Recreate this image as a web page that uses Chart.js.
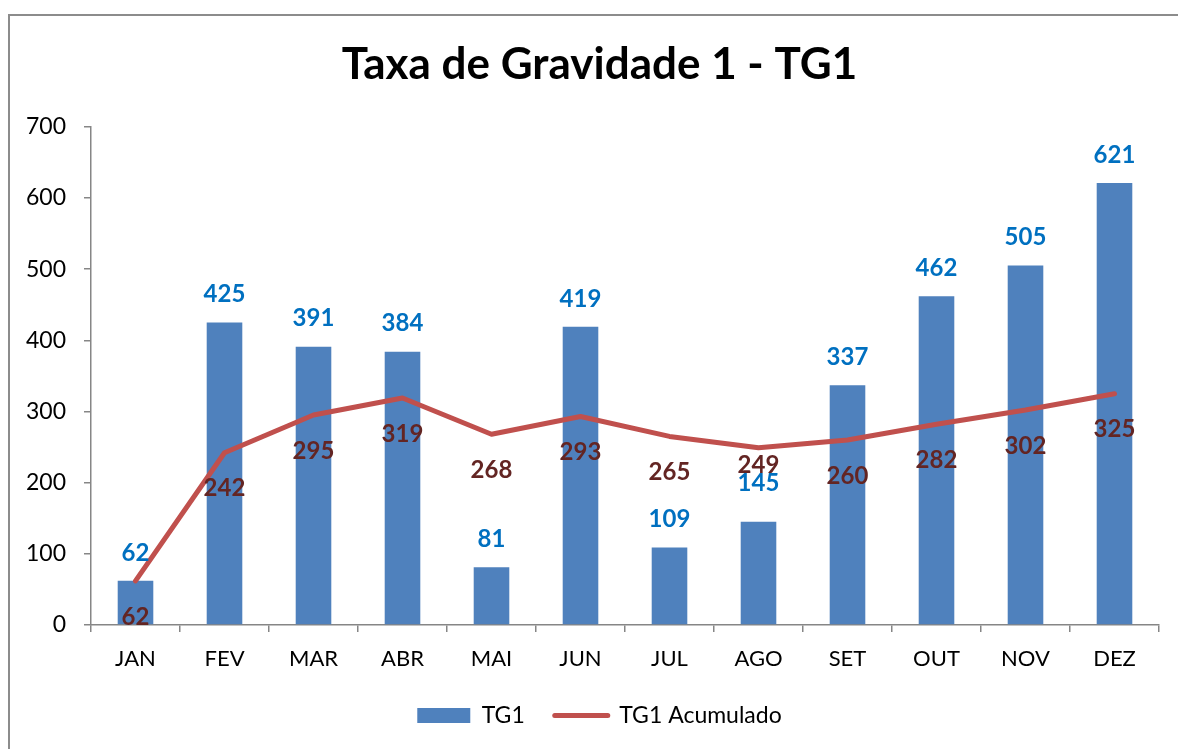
<!DOCTYPE html>
<html><head><meta charset="utf-8">
<script src="https://cdn.jsdelivr.net/npm/chart.js@4"></script>
<style>
html,body{margin:0;padding:0;background:#fff;overflow:hidden;}
#wrap{position:absolute;left:0;top:0;width:1178px;height:749px;}
#frame{position:absolute;left:8px;top:14px;width:1200px;height:800px;border:2px solid #8c8c8c;pointer-events:none;}
</style></head><body>
<div id="wrap"><canvas id="c" width="1178" height="749"></canvas></div>
<div id="frame"></div>
<script>
const categories = ['JAN','FEV','MAR','ABR','MAI','JUN','JUL','AGO','SET','OUT','NOV','DEZ'];
const tg1 = [62, 425, 391, 384, 81, 419, 109, 145, 337, 462, 505, 621];
const tg1Acumulado = [62, 242, 295, 319, 268, 293, 265, 249, 260, 282, 302, 325];
const yTicks = [0, 100, 200, 300, 400, 500, 600, 700];
const seriesNames = ['TG1', 'TG1 Acumulado'];
const titleText = 'Taxa de Gravidade 1 - TG1';

const FONT = 'Lato';
const BLUE = '#4F81BD', RED = '#C0504D', AXIS = '#868686';

const valueLabels = {
  id: 'valueLabels',
  afterDatasetsDraw(chart) {
    const ctx = chart.ctx;
    const barMeta = chart.getDatasetMeta(0), lineMeta = chart.getDatasetMeta(1);
    ctx.save();
    ctx.font = 'bold 24px ' + FONT;
    ctx.textAlign = 'center';
    ctx.textBaseline = 'middle';
    barMeta.data.forEach((bar, i) => {
      const pt = lineMeta.data[i];
      let by = bar.y - 28, ly = pt.y + 36;
      if (Math.abs(by - ly) < 22) { ly = pt.y + 17; by = ly + 18; }
      ctx.fillStyle = '#0070C0';
      ctx.fillText(String(tg1[i]), bar.x, by);
      ctx.fillStyle = '#632523';
      ctx.fillText(String(tg1Acumulado[i]), pt.x, ly);
    });
    ctx.restore();
  }
};

// centre title and legend on the outer frame rather than on the canvas
const shiftBlocks = {
  id: 'shiftBlocks',
  afterLayout(chart) {
    [chart.titleBlock, chart.legend].forEach(b => { if (b) { b.left += 20; b.right += 20; } });
  }
};

new Chart(document.getElementById('c'), {
  data: {
    labels: categories,
    datasets: [
      { type: 'bar', label: seriesNames[0], data: tg1, backgroundColor: BLUE, borderWidth: 0,
        barPercentage: 0.4, categoryPercentage: 1, order: 2 },
      { type: 'line', label: seriesNames[1], data: tg1Acumulado, borderColor: RED, borderWidth: 5,
        pointRadius: 0, tension: 0, borderCapStyle: 'round', borderJoinStyle: 'round', fill: false, order: 1 }
    ]
  },
  options: {
    responsive: false, animation: false, devicePixelRatio: 1,
    layout: { padding: { left: 0, right: 19, top: 0, bottom: 12 } },
    plugins: {
      tooltip: { enabled: false },
      title: { display: true, text: titleText, color: '#000',
        font: { family: FONT, size: 44, weight: 'bold' }, padding: { top: 38, bottom: 36 } },
      legend: {
        position: 'bottom',
        labels: {
          usePointStyle: true, pointStyleWidth: 53, boxHeight: 15, padding: 30,
          color: '#000', font: { family: FONT, size: 23 },
          generateLabels(chart) {
            return chart.data.datasets.map((ds, i) => ({
              text: ds.label, datasetIndex: i, hidden: false,
              fillStyle: i === 0 ? BLUE : RED, strokeStyle: i === 0 ? BLUE : RED,
              lineWidth: i === 0 ? 0 : 5, lineCap: 'round',
              pointStyle: i === 0 ? 'rect' : 'line'
            }));
          }
        }
      }
    },
    scales: {
      x: {
        grid: { offset: true, drawOnChartArea: false, tickLength: 7, color: AXIS, lineWidth: 1.5 },
        border: { color: AXIS, width: 1.5 },
        ticks: { color: '#000', font: { family: FONT, size: 22 }, padding: 14 },
        afterFit(s) { s.height = 49; }
      },
      y: {
        min: 0, max: 700,
        afterBuildTicks(s) { s.ticks = yTicks.map(v => ({ value: v })); },
        grid: { drawOnChartArea: false, tickLength: 7, color: AXIS, lineWidth: 1.5 },
        border: { color: AXIS, width: 1.5 },
        ticks: { color: '#000', font: { family: FONT, size: 23 }, padding: 18 },
        afterFit(s) { s.width = 91; }
      }
    }
  },
  plugins: [valueLabels, shiftBlocks]
});
</script>
</body></html>
